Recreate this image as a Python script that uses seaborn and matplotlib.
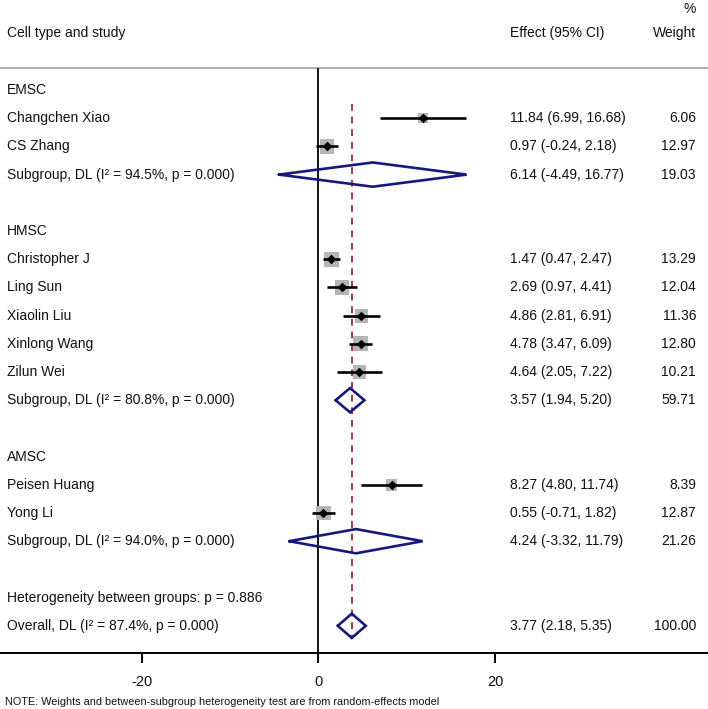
import numpy as np
import pandas as pd
import matplotlib
matplotlib.use("Agg")
import matplotlib.pyplot as plt
import seaborn as sns

# ---------------- data ----------------
group_names = ["EMSC", "HMSC", "AMSC"]
group_i2 = [94.5, 80.8, 94.0]
group_p = [0.000, 0.000, 0.000]

study_group = ["EMSC", "EMSC", "HMSC", "HMSC", "HMSC", "HMSC", "HMSC", "AMSC", "AMSC"]
study_names = ["Changchen Xiao", "CS Zhang", "Christopher J", "Ling Sun", "Xiaolin Liu",
               "Xinlong Wang", "Zilun Wei", "Peisen Huang", "Yong Li"]
study_effect = [11.84, 0.97, 1.47, 2.69, 4.86, 4.78, 4.64, 8.27, 0.55]
study_lo = [6.99, -0.24, 0.47, 0.97, 2.81, 3.47, 2.05, 4.80, -0.71]
study_hi = [16.68, 2.18, 2.47, 4.41, 6.91, 6.09, 7.22, 11.74, 1.82]
study_weight = [6.06, 12.97, 13.29, 12.04, 11.36, 12.80, 10.21, 8.39, 12.87]

sub_effect = [6.14, 3.57, 4.24]
sub_lo = [-4.49, 1.94, -3.32]
sub_hi = [16.77, 5.20, 11.79]
sub_weight = [19.03, 59.71, 21.26]

overall_effect = 3.77
overall_lo = 2.18
overall_hi = 5.35
overall_weight = 100.00
overall_i2 = 87.4
overall_p = 0.000
between_p = 0.886

x_ticks = [-20, 0, 20]
header_labels = ["Cell type and study", "Effect (95% CI)", "Weight", "%"]
note_text = "NOTE: Weights and between-subgroup heterogeneity test are from random-effects model"

# ---------------- layout rows ----------------
study_rows, sub_rows, text_rows = [], [], []
r = 0
for g, gname in enumerate(group_names):
    text_rows.append((r, gname, "", ""))
    r += 1
    for k in range(len(study_names)):
        if study_group[k] == gname:
            study_rows.append(r)
            text_rows.append((r, study_names[k],
                              f"{study_effect[k]:.2f} ({study_lo[k]:.2f}, {study_hi[k]:.2f})",
                              f"{study_weight[k]:.2f}"))
            r += 1
    sub_rows.append(r)
    text_rows.append((r, f"Subgroup, DL (I² = {group_i2[g]:.1f}%, p = {group_p[g]:.3f})",
                      f"{sub_effect[g]:.2f} ({sub_lo[g]:.2f}, {sub_hi[g]:.2f})",
                      f"{sub_weight[g]:.2f}"))
    r += 2
text_rows.append((r, f"Heterogeneity between groups: p = {between_p:.3f}", "", ""))
r += 1
overall_row = r
text_rows.append((r, f"Overall, DL (I² = {overall_i2:.1f}%, p = {overall_p:.3f})",
                  f"{overall_effect:.2f} ({overall_lo:.2f}, {overall_hi:.2f})",
                  f"{overall_weight:.2f}"))

studies = pd.DataFrame({"name": study_names, "effect": study_effect, "lo": study_lo,
                        "hi": study_hi, "weight": study_weight, "row": study_rows})

# ---------------- figure ----------------
sns.set_style("white")
plt.rcParams["font.family"] = ["Liberation Sans", "DejaVu Sans"]
plt.rcParams["axes.unicode_minus"] = False
plt.rcParams["text.color"] = "#111111"
plt.rcParams["xtick.color"] = "black"
plt.rcParams["xtick.labelcolor"] = "#111111"

W, H = 708, 709
fig = plt.figure(figsize=(W / 100, H / 100), dpi=100)
axis_px = 653
ax = fig.add_axes([0, (H - axis_px) / H, 1, axis_px / H])

zero_px, ppu = 318.5, 8.83
ax.set_xlim(-zero_px / ppu, (W - zero_px) / ppu)
row0_px, row_h = 90.0, 28.2
def row_of(px):
    return (px - row0_px) / row_h
ax.set_ylim(row_of(axis_px), row_of(0))

navy = "#17197a"
red = "#a3384c"

# separator + zero line
sep_r = row_of(68)
ax.axhline(sep_r, color="#a8a8a8", lw=1.3, zorder=1)
ax.vlines(0, sep_r, row_of(axis_px), color="black", lw=1.3, zorder=1)
# overall dashed line
dh = 0.43
ax.vlines(overall_effect, 0.5, overall_row + dh, color=red, lw=1.4,
          linestyles=(0, (3.5, 3.0)), zorder=1)

# squares (area proportional to weight)
sns.scatterplot(data=studies, x="effect", y="row", size="weight", sizes=(0, 20 * 8.7),
                size_norm=(0, 20), marker="s", color="#b5b5b5", linewidth=0,
                legend=False, ax=ax, zorder=2)
# CI lines
ax.hlines(studies["row"], studies["lo"], studies["hi"], color="black", lw=1.9, zorder=3)
# point estimates
sns.scatterplot(data=studies, x="effect", y="row", marker="D", color="black", s=24,
                linewidth=0, legend=False, ax=ax, zorder=4)

# diamonds
def diamond(c, lo, hi, y):
    xs = [lo, c, hi, c, lo]
    ys = [y, y - dh, y, y + dh, y]
    ax.plot(xs, ys, color=navy, lw=1.9, zorder=5, solid_joinstyle="miter")
for g in range(len(group_names)):
    diamond(sub_effect[g], sub_lo[g], sub_hi[g], sub_rows[g])
diamond(overall_effect, overall_lo, overall_hi, overall_row)

# text columns
trans = ax.get_yaxis_transform()
fs = 10
x_label, x_eff, x_w = 7 / W, 510 / W, 696 / W
for (rr, lab, eff, w) in text_rows:
    ax.text(x_label, rr, lab, transform=trans, ha="left", va="center", fontsize=fs)
    if eff:
        ax.text(x_eff, rr, eff, transform=trans, ha="left", va="center", fontsize=fs)
        ax.text(x_w, rr, w, transform=trans, ha="right", va="center", fontsize=fs)
hdr_r = row_of(33)
ax.text(x_label, hdr_r, header_labels[0], transform=trans, ha="left", va="center", fontsize=fs)
ax.text(x_eff, hdr_r, header_labels[1], transform=trans, ha="left", va="center", fontsize=fs)
ax.text(x_w, hdr_r, header_labels[2], transform=trans, ha="right", va="center", fontsize=fs)
ax.text(x_w, row_of(9), header_labels[3], transform=trans, ha="right", va="center", fontsize=fs)

# axis styling
for s in ["top", "left", "right"]:
    ax.spines[s].set_visible(False)
ax.spines["bottom"].set_linewidth(1.4)
ax.spines["bottom"].set_color("black")
ax.set_xticks(x_ticks)
ax.set_xticklabels([str(t) for t in x_ticks], fontsize=10.5)
ax.tick_params(axis="x", length=7, width=1.4, direction="out", pad=9, bottom=True)
ax.set_yticks([])
ax.set_xlabel("")
ax.set_ylabel("")
ax.set_facecolor("white")

fig.text(5 / W, 1 - 702 / H, note_text, ha="left", va="center", fontsize=7.8)

fig.savefig("out.png", dpi=100, facecolor="white")
